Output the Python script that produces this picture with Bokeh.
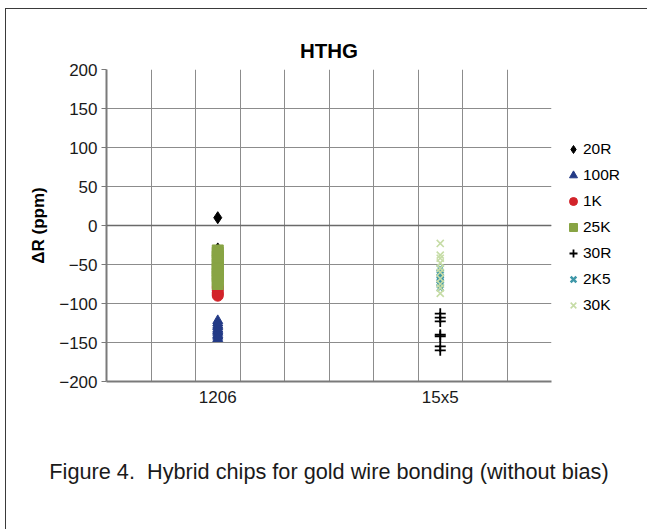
from bokeh.plotting import figure
from bokeh.models import FixedTicker, Legend, LegendItem, Span, Title
from bokeh.embed import file_html
from bokeh.resources import INLINE

# ---- data ----
categories = ["1206", "15x5"]
cat_pos = [0.5, 1.5]

r20_1206 = [10, -30, -38]
r100_1206 = [-122, -125, -128, -130, -133, -135, -137, -140, -142, -145]
k1_1206 = [-78, -80, -83, -86, -88, -90]
k25_1206 = [-32, -35, -40, -45, -50, -55, -58, -62, -65, -70, -75]
r30_15x5 = [-113, -118, -123, -140, -142, -155, -160]
k2k5_15x5 = [-55, -60, -63, -67, -70, -73, -76, -80]
k30_15x5 = [-23, -38, -42, -48, -55, -60, -68, -75, -80, -87]

y_ticks = [-200, -150, -100, -50, 0, 50, 100, 150, 200]
x_grid = [0, 0.2, 0.4, 0.6, 0.8, 1.0, 1.2, 1.4, 1.6, 1.8, 2.0]

FONT = "Liberation Sans"

p = figure(frame_width=445, frame_height=312, x_range=(0, 2), y_range=(-200, 200),
           output_backend="svg", toolbar_location=None,
           min_border_left=100, min_border_right=94, min_border_top=60, min_border_bottom=140,
           title="HTHG")
p.styles = {"margin-left": "5px", "margin-top": "8px",
            "border-top": "1px solid #3a3a3a", "border-left": "1px solid #3a3a3a",
            "border-right": "1px solid #3a3a3a"}
p.outline_line_color = None
p.background_fill_color = "white"
p.border_fill_color = "white"

p.title.align = "center"
p.title.text_font = FONT
p.title.text_font_size = "20.5px"
p.title.text_font_style = "bold"
p.title.text_color = "black"
p.title.standoff = 10
p.title.padding = 3

# axes
p.xaxis.ticker = FixedTicker(ticks=cat_pos)
p.xaxis.major_label_overrides = {0.5: categories[0], 1.5: categories[1]}
p.xaxis.major_tick_line_color = None
p.xaxis.minor_tick_line_color = None
p.xaxis.axis_line_color = "#7a7a7a"
p.xaxis.axis_line_width = 2
p.xaxis.major_label_text_font = FONT
p.xaxis.major_label_text_font_size = "17px"
p.xaxis.major_label_text_color = "#1a1a1a"
p.xaxis.major_label_standoff = 0

p.yaxis.ticker = FixedTicker(ticks=y_ticks)
p.yaxis.major_label_overrides = {t: (("\u2212" + str(abs(t))) if t < 0 else str(t)) for t in y_ticks}
p.yaxis.major_tick_out = 5
p.yaxis.major_tick_in = 0
p.yaxis.major_tick_line_color = "#7a7a7a"
p.yaxis.minor_tick_line_color = None
p.yaxis.axis_line_color = "#7a7a7a"
p.yaxis.axis_line_width = 2
p.yaxis.major_label_text_font = FONT
p.yaxis.major_label_text_font_size = "17px"
p.yaxis.major_label_text_color = "#1a1a1a"
p.yaxis.major_label_standoff = 4
p.yaxis.axis_label = "\u0394R (ppm)"
p.yaxis.axis_label_text_font = FONT
p.yaxis.axis_label_text_font_size = "17px"
p.yaxis.axis_label_text_font_style = "bold"
p.yaxis.axis_label_text_color = "black"
p.yaxis.axis_label_standoff = 8

p.xgrid.ticker = FixedTicker(ticks=x_grid)
p.xgrid.grid_line_color = "#8c8c8c"
p.ygrid.ticker = FixedTicker(ticks=y_ticks)
p.ygrid.grid_line_color = "#8c8c8c"

p.add_layout(Span(location=0, dimension="width", line_color="#6a6a6a", line_width=1.5))

x0, x1 = cat_pos

g20 = p.scatter([x0] * len(r20_1206), r20_1206, marker="diamond", size=12, color="black")
g100 = p.scatter([x0] * len(r100_1206), r100_1206, marker="triangle", size=10, color="#233a86")
g1k = p.scatter([x0] * len(k1_1206), k1_1206, marker="circle", size=11, color="#d2232a")
g25 = p.scatter([x0] * len(k25_1206), k25_1206, marker="square", size=11, color="#88a444")
g30r = p.scatter([x1] * len(r30_15x5), r30_15x5, marker="cross", size=11, line_color="black", line_width=1.8)
g2k5 = p.scatter([x1] * len(k2k5_15x5), k2k5_15x5, marker="x", size=9, line_color="#3f97a8", line_width=2.5)
g30k = p.scatter([x1] * len(k30_15x5), k30_15x5, marker="x", size=10, line_color="#c6dca6", line_width=1.6)

legend = Legend(items=[
    LegendItem(label="20R", renderers=[g20]),
    LegendItem(label="100R", renderers=[g100]),
    LegendItem(label="1K", renderers=[g1k]),
    LegendItem(label="25K", renderers=[g25]),
    LegendItem(label="30R", renderers=[g30r]),
    LegendItem(label="2K5", renderers=[g2k5]),
    LegendItem(label="30K", renderers=[g30k]),
], location=(12, 63), border_line_color=None, background_fill_alpha=0,
   padding=0, margin=0, spacing=0, label_height=26, glyph_height=26, glyph_width=20,
   label_standoff=0, label_text_font=FONT, label_text_font_size="15.5px",
   label_text_color="black")
p.add_layout(legend, "right")

cap = Title(text="Figure 4.\u00a0 Hybrid chips for gold wire bonding (without bias)",
            align="center", text_font=FONT, text_font_size="21.7px",
            text_font_style="normal", text_color="#1a1a1a", standoff=80, padding=7)
p.add_layout(cap, "below")

open("out.html", "w").write(file_html(p, INLINE))
